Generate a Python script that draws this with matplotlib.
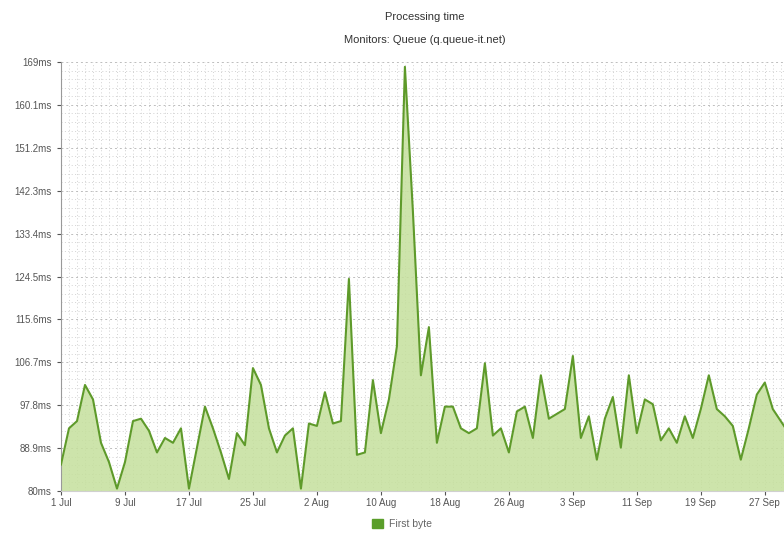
import numpy as np
import pandas as pd
import matplotlib
matplotlib.use("Agg")
import matplotlib.pyplot as plt
import matplotlib.dates as mdates
from matplotlib.patches import Patch
from matplotlib.ticker import AutoMinorLocator

plt.rcParams['font.family'] = ['Liberation Sans', 'DejaVu Sans']

# daily first-byte time (ms), 1 Jul .. 1 Oct
first_byte = [
    85.5, 93, 94.5, 102, 99, 90, 86, 80.5, 86, 94.5,
    95, 92.5, 88, 91, 90, 93, 80.5, 89, 97.5, 93,
    88, 82.5, 92, 89.5, 105.5, 102, 93, 88, 91.5, 93,
    80.5, 94, 93.5, 100.5, 94, 94.5, 124, 87.5, 88, 103,
    92, 99, 110, 168, 138, 104, 114, 90, 97.5, 97.5,
    93, 92, 93, 106.5, 91.5, 93, 88, 96.5, 97.5, 91,
    104, 95, 96, 97, 108, 91, 95.5, 86.5, 95, 99.5,
    89, 104, 92, 99, 98, 90.5, 93, 90, 95.5, 91,
    97, 104, 97, 95.5, 93.5, 86.5, 93, 100, 102.5, 97,
    94.5, 92,
]
dates = pd.date_range("2014-07-01", periods=len(first_byte), freq="D")

y_ticks = [80, 88.9, 97.8, 106.7, 115.6, 124.5, 133.4, 142.3, 151.2, 160.1, 169]
y_labels = ["80ms", "88.9ms", "97.8ms", "106.7ms", "115.6ms", "124.5ms",
            "133.4ms", "142.3ms", "151.2ms", "160.1ms", "169ms"]

line_green = "#5e9a2a"
fill_green = "#c5e09c"

fig = plt.figure(figsize=(7.84, 5.37), dpi=100)
ax = fig.add_axes([61 / 784, 46 / 537, 1 - 61 / 784, (491 - 62) / 537])

ax.fill_between(dates, 80, first_byte, color=fill_green, alpha=0.85, lw=0, zorder=2)
ax.plot(dates, first_byte, color=line_green, lw=1.5, zorder=3)

ax.set_ylim(80, 169)
ax.set_yticks(y_ticks)
ax.set_yticklabels(y_labels)
ax.yaxis.set_minor_locator(AutoMinorLocator(5))

start = dates[0]
ax.set_xlim(start, start + pd.Timedelta(days=90.4))
tick_dates = pd.date_range(start, periods=12, freq="8D")
ax.set_xticks(tick_dates)
ax.set_xticklabels([f"{d.day} {d.strftime('%b')}" for d in tick_dates])
ax.xaxis.set_minor_locator(mdates.DayLocator())

ax.grid(which="major", axis="y", color="#bdbdbd", ls=(0, (2, 3)), lw=0.7, zorder=0)
ax.grid(which="major", axis="x", color="#cccccc", ls=(0, (1, 2.5)), lw=0.7, zorder=0)
ax.grid(which="minor", color="#d2d2d2", ls=(0, (1, 2.5)), lw=0.7, zorder=0)
ax.set_axisbelow(True)

for s in ["top", "right"]:
    ax.spines[s].set_visible(False)
ax.spines["left"].set_color("#999999")
ax.spines["bottom"].set_color("#d0d0d0")
ax.tick_params(axis="both", which="major", labelsize=7, colors="#555555", length=3)
ax.tick_params(axis="both", which="minor", length=0)
ax.tick_params(axis="x", pad=2)

fig.text(425 / 784, 1 - 17 / 537, "Processing time", ha="center", va="center",
         fontsize=8, color="#333333")
fig.text(425 / 784, 1 - 40 / 537, "Monitors: Queue (q.queue-it.net)", ha="center",
         va="center", fontsize=8, color="#333333")

fig.legend(handles=[Patch(facecolor="#5a9e2a", edgecolor="#5a9e2a", label="First byte")],
           loc="center", bbox_to_anchor=(402 / 784, 1 - 524 / 537), frameon=False,
           fontsize=7.5, handlelength=1.0, handleheight=1.0, handletextpad=0.6,
           labelcolor="#666666")

fig.savefig("out.png", dpi=100)
